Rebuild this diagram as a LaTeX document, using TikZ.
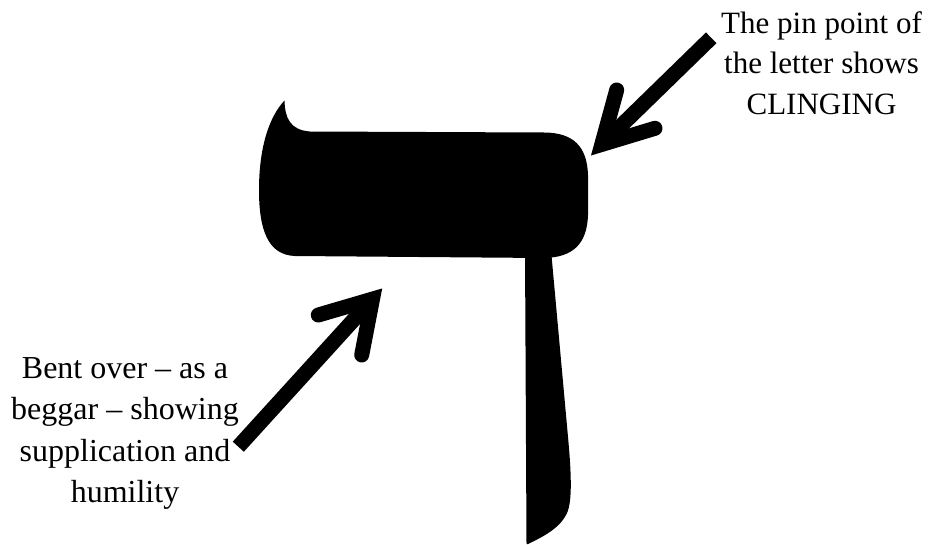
\documentclass[tikz,border=0pt]{standalone}
\usepackage{fontspec}
\setmainfont{Liberation Serif}
\begin{document}
\begin{tikzpicture}[x=1pt,y=-1pt,
  lefttext/.style={font=\fontsize{32}{41.5}\selectfont, align=center, inner sep=0pt},
  righttext/.style={font=\fontsize{31}{40.5}\selectfont, align=center, inner sep=0pt},
  titletext/.style={font=\fontsize{55}{60}\selectfont\bfseries, inner sep=0pt, anchor=base west},
  shaft/.style={line width=15pt, line cap=butt},
  barbs/.style={line width=15pt, line cap=round, line join=miter},
  glyph/.style={fill=black, draw=none}]
\useasboundingbox (0,0) rectangle (933,544);

% title (mostly above the picture)
\node[titletext] (title) at (249,-2) {DOOR \& LIFE};

% the letter
\path[glyph] (284.5,100.5) .. controls (285,118) and (290,130) .. (310,131.5)
  -- (545,132.5) .. controls (572,133) and (587,145) .. (588,175)
  -- (588,215) .. controls (587,245) and (572,257) .. (545,258)
  -- (295,256) .. controls (268,255) and (259,230) .. (259,190)
  .. controls (259,150) and (268,118) .. (284.5,100.5) -- cycle;
\path[glyph] (525,250) -- (551,250) -- (568,437)
  .. controls (572,480) and (572,505) .. (566,515)
  .. controls (558,530) and (540,538) .. (528,544)
  -- (526.5,544) -- cycle;

% texts
\node[righttext] (pin) at (821.5,63) {The pin point of\\the letter shows\\CLINGING};
\node[lefttext] (bent) at (125,433.4) {Bent over -- as a\\beggar -- showing\\supplication and\\humility};

% right arrow
\coordinate (rs) at (711.2,37.8);
\coordinate (rv) at (601.8,144.4);
\coordinate (rb1) at (616.7,90);
\coordinate (rb2) at (655,128.3);
\draw[shaft] (rs) -- (rv);
\draw[barbs] (rb1) -- (rv) -- (rb2);

% left arrow
\coordinate (ls) at (238.3,446.7);
\coordinate (lv) at (372.5,299.1);
\coordinate (lb1) at (318.3,315);
\coordinate (lb2) at (361.7,355);
\draw[shaft] (ls) -- (lv);
\draw[barbs] (lb1) -- (lv) -- (lb2);
\end{tikzpicture}
\end{document}
